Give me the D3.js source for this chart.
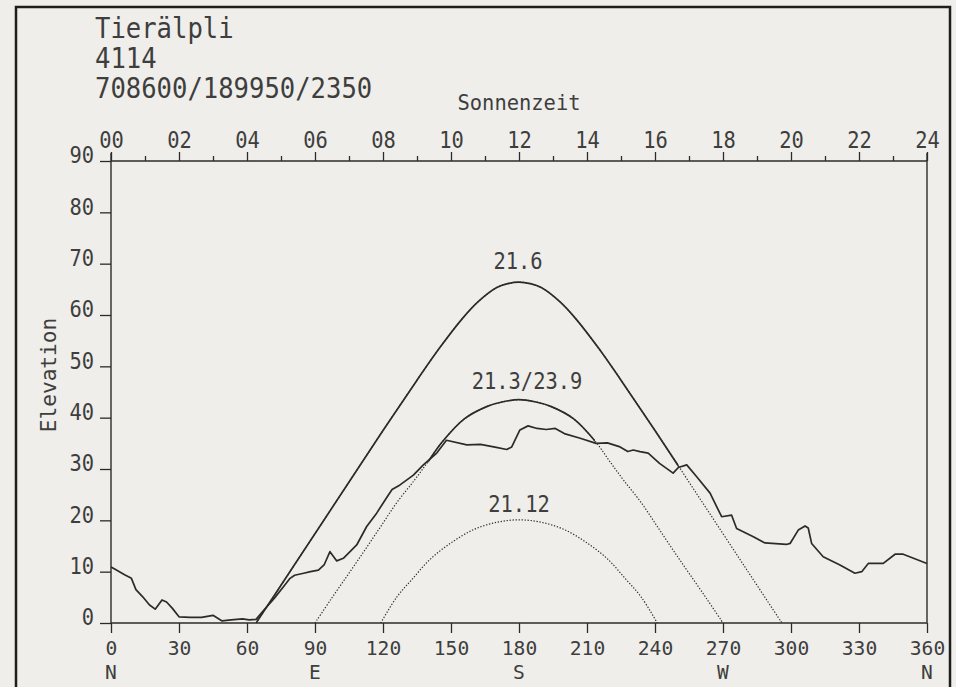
<!DOCTYPE html>
<html>
<head>
<meta charset="utf-8">
<script src="https://cdn.jsdelivr.net/npm/d3@7"></script>
<style>
  html, body { margin: 0; padding: 0; background: #efeeea; }
  svg { display: block; }
  text { font-family: "DejaVu Sans Mono", "Liberation Mono", monospace; fill: #3e3e3e; }
</style>
</head>
<body>
<svg id="chart" width="956" height="687"></svg>
<script>
// Site header
const titleLines = ["Tierälpli", "4114", "708600/189950/2350"];

// Tick labels
const azimuthTicks = [0, 30, 60, 90, 120, 150, 180, 210, 240, 270, 300, 330, 360];
const compassTicks = [0, 90, 180, 270, 360];
const compassLabels = ["N", "E", "S", "W", "N"];
const elevationTicks = [0, 10, 20, 30, 40, 50, 60, 70, 80, 90];
const hourMajor = [0, 2, 4, 6, 8, 10, 12, 14, 16, 18, 20, 22, 24];
const hourMinor = [1, 3, 5, 7, 9, 11, 13, 15, 17, 19, 21, 23];

// Horizon profile (azimuth in degrees, elevation in degrees)
const horizonAz = [0, 2, 6, 9, 11, 14, 17, 19.5, 22.5, 24.5, 27, 30, 35, 40, 45, 49, 53, 58, 61, 64,
  67, 72, 76, 79, 81, 85, 88, 91.5, 94, 96.6, 99.6, 102.5, 108.4, 112.8, 117.2, 122.3, 124, 127.5,
  133.4, 137.8, 143.7, 148, 157, 163, 170, 174.6, 176.8, 180.4, 184, 188, 192, 196, 200, 207, 214,
  219, 224.6, 228, 230.4, 233.4, 237, 242, 248, 250.3, 254, 258.4, 264.3, 266.5, 269.4, 273.8, 276,
  283.4, 288.5, 298, 299.6, 303.2, 306.2, 307.6, 309.1, 314.2, 321.6, 328.2, 331.2, 334.1, 340.7,
  345.9, 349.5, 360];
const horizonEl = [10.9, 10.4, 9.4, 8.7, 6.5, 5.1, 3.5, 2.7, 4.5, 4.1, 2.9, 1.2, 1.1, 1.1, 1.5, 0.4, 0.6, 0.8, 0.6, 0.7,
  2.3, 4.8, 7.0, 8.7, 9.3, 9.7, 10.0, 10.3, 11.3, 13.9, 12.1, 12.6, 15.2, 18.8, 21.4, 24.9, 26.0, 26.9,
  28.8, 30.8, 33.1, 35.6, 34.7, 34.8, 34.2, 33.8, 34.3, 37.6, 38.4, 37.9, 37.7, 37.9, 36.9, 36.0, 35.0,
  35.1, 34.3, 33.4, 33.7, 33.4, 33.1, 31.1, 29.2, 30.3, 30.8, 28.5, 25.3, 23.3, 20.7, 21.0, 18.4,
  16.8, 15.6, 15.3, 15.5, 18.1, 18.9, 18.5, 15.5, 12.9, 11.3, 9.7, 10.0, 11.6, 11.6,
  13.4, 13.4, 11.6];

// Sun paths: 21 June, 21 March / 23 September, 21 December
const summerAz = [64, 80, 100, 120, 135, 145, 155, 162, 170, 175, 180, 185, 190, 198, 205, 215, 225, 240, 260, 280, 296];
const summerEl = [0, 10.7, 24.1, 37.5, 47.3, 53.6, 59.3, 62.6, 65.3, 66.1, 66.4, 66.1, 65.3, 62.6, 59.3, 53.6, 47.3, 37.5, 24.1, 10.7, 0];
const equinoxAz = [90, 97, 105, 112, 119, 126, 134, 140, 146, 156, 166, 173, 180, 187, 194, 204, 214, 220, 226, 234, 241, 248, 255, 263, 270];
const equinoxEl = [0, 4.6, 9.7, 14.2, 18.8, 23.4, 27.9, 31.5, 35.2, 39.8, 42.2, 43.1, 43.5, 43.1, 42.2, 39.8, 35.2, 31.5, 27.9, 23.4, 18.8, 14.2, 9.7, 4.6, 0];
const winterAz = [119, 126, 133, 141, 150, 160, 170, 180, 190, 200, 210, 219, 227, 234, 241];
const winterEl = [0, 5.0, 8.6, 12.5, 15.6, 18.2, 19.6, 20.1, 19.6, 18.2, 15.6, 12.5, 8.6, 5.0, 0];

// Curve labels and the azimuth spans where each path is above the horizon
const curveLabels = ["21.6", "21.3/23.9", "21.12"];
const summerVisible = [[64, 250.5]];
const equinoxVisible = [[140, 213.5]];
const winterVisible = [];

const svg = d3.select("#chart");

const x = d3.scaleLinear().domain([0, 360]).range([111, 927]);
const y = d3.scaleLinear().domain([0, 90]).range([623, 161]);
const hour = d3.scaleLinear().domain([0, 24]).range([111, 927]);

const ink = "#2b2b2b";

// Narrow plotter-style lettering: squeeze each string to a fixed pitch per character
function pitch(sel, perChar) {
  sel.each(function () {
    const n = this.textContent.length;
    d3.select(this).attr("textLength", n * perChar).attr("lengthAdjust", "spacingAndGlyphs");
  });
}

// Outer frame
svg.append("rect")
  .attr("x", 16).attr("y", 7).attr("width", 934).attr("height", 700)
  .attr("fill", "none").attr("stroke", "#1e1e1e").attr("stroke-width", 2.5);

// Header lines
svg.append("g").selectAll("text").data(titleLines).join("text")
  .attr("x", 95).attr("y", (d, i) => 38 + i * 30)
  .attr("font-size", 28).text(d => d)
  .call(pitch, 15.4);

// Plot box
svg.append("line").attr("x1", x(0)).attr("x2", x(360)).attr("y1", y(0)).attr("y2", y(0)).attr("stroke", ink).attr("stroke-width", 1.4);
svg.append("line").attr("x1", x(0)).attr("x2", x(360)).attr("y1", y(90)).attr("y2", y(90)).attr("stroke", ink).attr("stroke-width", 1.4);
svg.append("line").attr("x1", x(0)).attr("x2", x(0)).attr("y1", y(90) - 8).attr("y2", y(0)).attr("stroke", ink).attr("stroke-width", 1.4);
svg.append("line").attr("x1", x(360)).attr("x2", x(360)).attr("y1", y(90) - 8).attr("y2", y(0)).attr("stroke", ink).attr("stroke-width", 1.4);

function styleAxis(g) {
  g.select(".domain").remove();
  g.selectAll(".tick line").attr("stroke", ink).attr("stroke-width", 1.3);
  g.selectAll(".tick text").attr("font-family", "DejaVu Sans Mono, monospace").attr("fill", "#3e3e3e");
}

// Left axis: elevation
svg.append("g").attr("transform", `translate(${x(0)},0)`)
  .call(d3.axisLeft(y).tickValues(elevationTicks).tickSize(11).tickPadding(6))
  .call(styleAxis)
  .call(g => g.selectAll(".tick text").attr("font-size", 23).attr("dy", "0.08em").call(pitch, 12.3));

// Bottom axis: azimuth
svg.append("g").attr("transform", `translate(0,${y(0)})`)
  .call(d3.axisBottom(x).tickValues(azimuthTicks).tickSize(10).tickPadding(6))
  .call(styleAxis)
  .call(g => g.selectAll(".tick text").attr("font-size", 20).attr("y", 32).attr("dy", 0).call(pitch, 11.8));

svg.append("g").selectAll("text").data(compassTicks).join("text")
  .attr("x", d => x(d)).attr("y", 679).attr("text-anchor", "middle")
  .attr("font-size", 20).text((d, i) => compassLabels[i])
  .call(pitch, 11.8);

// Top axis: solar time
svg.append("g").attr("transform", `translate(0,${y(90)})`)
  .call(d3.axisTop(hour).tickValues(hourMajor).tickSize(9).tickPadding(4).tickFormat(d3.format("02d")))
  .call(styleAxis)
  .call(g => g.selectAll(".tick text").attr("font-size", 23).call(pitch, 12.3));
svg.append("g").attr("transform", `translate(0,${y(90)})`)
  .call(d3.axisTop(hour).tickValues(hourMinor).tickSize(5).tickFormat(""))
  .call(styleAxis);

svg.append("text").attr("x", hour(12)).attr("y", 110).attr("text-anchor", "middle")
  .attr("font-size", 22).text("Sonnenzeit").call(pitch, 12.3);

svg.append("text").attr("transform", "translate(56,375) rotate(-90)")
  .attr("text-anchor", "middle").attr("font-size", 22).text("Elevation").call(pitch, 12.7);

// Horizon
const pts = (az, el) => az.map((a, i) => [a, el[i]]);
const horizonLine = d3.line().x(d => x(d[0])).y(d => y(d[1]));
svg.append("path").datum(pts(horizonAz, horizonEl))
  .attr("d", horizonLine).attr("fill", "none").attr("stroke", ink)
  .attr("stroke-width", 1.7).attr("stroke-linejoin", "round");

// Sun paths: dotted where hidden, solid where visible
const sunLine = d3.line().x(d => x(d[0])).y(d => y(d[1])).curve(d3.curveCatmullRom.alpha(0.5));
const defs = svg.append("defs");
const sunPaths = [
  { id: "summer", data: pts(summerAz, summerEl), visible: summerVisible, label: curveLabels[0], peak: 66.4, dx: -1, dy: -13 },
  { id: "equinox", data: pts(equinoxAz, equinoxEl), visible: equinoxVisible, label: curveLabels[1], peak: 43.5, dx: 8, dy: -11 },
  { id: "winter", data: pts(winterAz, winterEl), visible: winterVisible, label: curveLabels[2], peak: 20.1, dx: 0, dy: -8 }
];

sunPaths.forEach(p => {
  svg.append("path").datum(p.data).attr("d", sunLine)
    .attr("fill", "none").attr("stroke", ink).attr("stroke-width", 1.2)
    .attr("stroke-dasharray", "1.3 1.7");
  if (p.visible.length) {
    const clip = defs.append("clipPath").attr("id", "clip-" + p.id);
    p.visible.forEach(r => clip.append("rect")
      .attr("x", x(r[0])).attr("y", y(90)).attr("width", x(r[1]) - x(r[0])).attr("height", y(0) - y(90)));
    svg.append("path").datum(p.data).attr("d", sunLine)
      .attr("clip-path", `url(#clip-${p.id})`)
      .attr("fill", "none").attr("stroke", ink).attr("stroke-width", 1.7);
  }
  svg.append("text").attr("x", x(180) + p.dx).attr("y", y(p.peak) + p.dy)
    .attr("text-anchor", "middle").attr("font-size", 23).text(p.label)
    .call(pitch, 12.3);
});
</script>
</body>
</html>
